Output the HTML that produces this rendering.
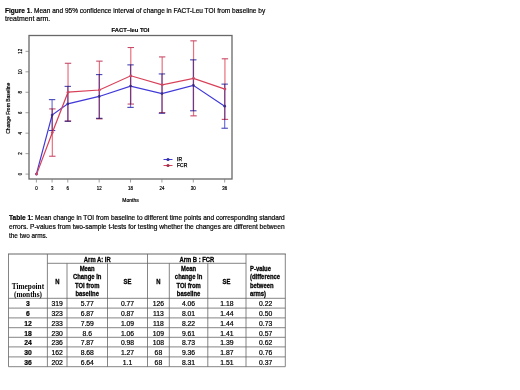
<!DOCTYPE html>
<html><head><meta charset="utf-8"><style>
html,body{margin:0;padding:0;background:#fff;}
body{width:520px;height:390px;position:relative;overflow:hidden;filter:blur(0.35px);font-family:"Liberation Sans",sans-serif;color:#222;}
.a{position:absolute;white-space:nowrap;}
.cap{font-size:7.1px;line-height:8.8px;color:#000;-webkit-text-stroke:0.2px #000;}
.c{position:absolute;text-align:center;white-space:nowrap;}
.d{font-size:6.8px;line-height:9.8px;color:#000;padding-top:1.2px;box-sizing:border-box;-webkit-text-stroke:0.2px #000;}
.h{font-size:6.7px;line-height:8.5px;font-weight:bold;color:#000;-webkit-text-stroke:0.28px #000;}
.h span{display:inline-block;transform:scaleX(0.88);transform-origin:50% 50%;}
.hl span{transform-origin:0 50%;}
.s{font-family:"Liberation Serif",serif;font-weight:bold;font-size:7.3px;line-height:7.9px;color:#000;}
svg{position:absolute;left:0;top:0;}
svg text{font-family:"Liberation Sans",sans-serif;stroke:#000;stroke-width:0.2px;}
</style></head><body>

<svg width="520" height="390" viewBox="0 0 520 390"><rect x="29.0" y="35.5" width="203.0" height="143.5" fill="none" stroke="#686868" stroke-width="1.3"/><line x1="25.5" y1="174.10" x2="29.0" y2="174.10" stroke="#777" stroke-width="0.7"/><text x="0" y="0" transform="translate(21.9,174.10) rotate(-90) scale(0.88,1)" text-anchor="middle" font-size="5" fill="#000">0</text><line x1="25.5" y1="153.64" x2="29.0" y2="153.64" stroke="#777" stroke-width="0.7"/><text x="0" y="0" transform="translate(21.9,153.64) rotate(-90) scale(0.88,1)" text-anchor="middle" font-size="5" fill="#000">2</text><line x1="25.5" y1="133.18" x2="29.0" y2="133.18" stroke="#777" stroke-width="0.7"/><text x="0" y="0" transform="translate(21.9,133.18) rotate(-90) scale(0.88,1)" text-anchor="middle" font-size="5" fill="#000">4</text><line x1="25.5" y1="112.72" x2="29.0" y2="112.72" stroke="#777" stroke-width="0.7"/><text x="0" y="0" transform="translate(21.9,112.72) rotate(-90) scale(0.88,1)" text-anchor="middle" font-size="5" fill="#000">6</text><line x1="25.5" y1="92.26" x2="29.0" y2="92.26" stroke="#777" stroke-width="0.7"/><text x="0" y="0" transform="translate(21.9,92.26) rotate(-90) scale(0.88,1)" text-anchor="middle" font-size="5" fill="#000">8</text><line x1="25.5" y1="71.80" x2="29.0" y2="71.80" stroke="#777" stroke-width="0.7"/><text x="0" y="0" transform="translate(21.9,71.80) rotate(-90) scale(0.88,1)" text-anchor="middle" font-size="5" fill="#000">10</text><line x1="25.5" y1="51.34" x2="29.0" y2="51.34" stroke="#777" stroke-width="0.7"/><text x="0" y="0" transform="translate(21.9,51.34) rotate(-90) scale(0.88,1)" text-anchor="middle" font-size="5" fill="#000">12</text><line x1="36.40" y1="179.0" x2="36.40" y2="182.5" stroke="#777" stroke-width="0.7"/><text x="0" y="0" transform="translate(36.40,190.3) scale(0.88,1)" text-anchor="middle" font-size="5" fill="#000">0</text><line x1="52.09" y1="179.0" x2="52.09" y2="182.5" stroke="#777" stroke-width="0.7"/><text x="0" y="0" transform="translate(52.09,190.3) scale(0.88,1)" text-anchor="middle" font-size="5" fill="#000">3</text><line x1="67.78" y1="179.0" x2="67.78" y2="182.5" stroke="#777" stroke-width="0.7"/><text x="0" y="0" transform="translate(67.78,190.3) scale(0.88,1)" text-anchor="middle" font-size="5" fill="#000">6</text><line x1="99.16" y1="179.0" x2="99.16" y2="182.5" stroke="#777" stroke-width="0.7"/><text x="0" y="0" transform="translate(99.16,190.3) scale(0.88,1)" text-anchor="middle" font-size="5" fill="#000">12</text><line x1="130.54" y1="179.0" x2="130.54" y2="182.5" stroke="#777" stroke-width="0.7"/><text x="0" y="0" transform="translate(130.54,190.3) scale(0.88,1)" text-anchor="middle" font-size="5" fill="#000">18</text><line x1="161.92" y1="179.0" x2="161.92" y2="182.5" stroke="#777" stroke-width="0.7"/><text x="0" y="0" transform="translate(161.92,190.3) scale(0.88,1)" text-anchor="middle" font-size="5" fill="#000">24</text><line x1="193.30" y1="179.0" x2="193.30" y2="182.5" stroke="#777" stroke-width="0.7"/><text x="0" y="0" transform="translate(193.30,190.3) scale(0.88,1)" text-anchor="middle" font-size="5" fill="#000">30</text><line x1="224.68" y1="179.0" x2="224.68" y2="182.5" stroke="#777" stroke-width="0.7"/><text x="0" y="0" transform="translate(224.68,190.3) scale(0.88,1)" text-anchor="middle" font-size="5" fill="#000">36</text><text x="130.5" y="201.5" text-anchor="middle" font-size="5" fill="#000">Months</text><text x="0" y="0" transform="translate(10.2,108.2) rotate(-90)" text-anchor="middle" font-size="5" fill="#000">Change From Baseline</text><text x="130.5" y="32.2" text-anchor="middle" font-size="5.8" font-weight="bold" fill="#111">FACT–leu TOI</text><polyline points="36.40,174.10 52.09,115.07 67.78,103.82 99.16,96.45 130.54,86.12 161.92,93.59 193.30,85.30 224.68,106.17" fill="none" stroke="#4038d8" stroke-width="1.2"/><g opacity="1.0" style="mix-blend-mode:multiply"><line x1="52.09" y1="130.51" x2="52.09" y2="99.63" stroke="#7470e0" stroke-width="1.2"/><line x1="48.89" y1="130.51" x2="55.29" y2="130.51" stroke="#4444b8" stroke-width="1.1"/><line x1="48.89" y1="99.63" x2="55.29" y2="99.63" stroke="#4444b8" stroke-width="1.1"/><line x1="67.78" y1="121.26" x2="67.78" y2="86.38" stroke="#7470e0" stroke-width="1.2"/><line x1="64.58" y1="121.26" x2="70.98" y2="121.26" stroke="#4444b8" stroke-width="1.1"/><line x1="64.58" y1="86.38" x2="70.98" y2="86.38" stroke="#4444b8" stroke-width="1.1"/><line x1="99.16" y1="118.31" x2="99.16" y2="74.60" stroke="#7470e0" stroke-width="1.2"/><line x1="95.96" y1="118.31" x2="102.36" y2="118.31" stroke="#4444b8" stroke-width="1.1"/><line x1="95.96" y1="74.60" x2="102.36" y2="74.60" stroke="#4444b8" stroke-width="1.1"/><line x1="130.54" y1="107.38" x2="130.54" y2="64.87" stroke="#7470e0" stroke-width="1.2"/><line x1="127.34" y1="107.38" x2="133.74" y2="107.38" stroke="#4444b8" stroke-width="1.1"/><line x1="127.34" y1="64.87" x2="133.74" y2="64.87" stroke="#4444b8" stroke-width="1.1"/><line x1="161.92" y1="113.24" x2="161.92" y2="73.94" stroke="#7470e0" stroke-width="1.2"/><line x1="158.72" y1="113.24" x2="165.12" y2="113.24" stroke="#4444b8" stroke-width="1.1"/><line x1="158.72" y1="73.94" x2="165.12" y2="73.94" stroke="#4444b8" stroke-width="1.1"/><line x1="193.30" y1="110.77" x2="193.30" y2="59.84" stroke="#7470e0" stroke-width="1.2"/><line x1="190.10" y1="110.77" x2="196.50" y2="110.77" stroke="#4444b8" stroke-width="1.1"/><line x1="190.10" y1="59.84" x2="196.50" y2="59.84" stroke="#4444b8" stroke-width="1.1"/><line x1="224.68" y1="128.23" x2="224.68" y2="84.12" stroke="#7470e0" stroke-width="1.2"/><line x1="221.48" y1="128.23" x2="227.88" y2="128.23" stroke="#4444b8" stroke-width="1.1"/><line x1="221.48" y1="84.12" x2="227.88" y2="84.12" stroke="#4444b8" stroke-width="1.1"/></g><circle cx="36.40" cy="174.10" r="1.4" fill="#4444b8"/><circle cx="52.09" cy="115.07" r="1.4" fill="#4444b8"/><circle cx="67.78" cy="103.82" r="1.4" fill="#4444b8"/><circle cx="99.16" cy="96.45" r="1.4" fill="#4444b8"/><circle cx="130.54" cy="86.12" r="1.4" fill="#4444b8"/><circle cx="161.92" cy="93.59" r="1.4" fill="#4444b8"/><circle cx="193.30" cy="85.30" r="1.4" fill="#4444b8"/><circle cx="224.68" cy="106.17" r="1.4" fill="#4444b8"/><polyline points="36.65,174.10 52.34,132.57 68.03,92.16 99.41,90.01 130.79,75.79 162.17,84.79 193.55,78.35 224.93,89.09" fill="none" stroke="#d84058" stroke-width="1.2"/><g opacity="1.0" style="mix-blend-mode:multiply"><line x1="52.34" y1="156.23" x2="52.34" y2="108.91" stroke="#e87080" stroke-width="1.2"/><line x1="49.14" y1="156.23" x2="55.54" y2="156.23" stroke="#c84a68" stroke-width="1.1"/><line x1="49.14" y1="108.91" x2="55.54" y2="108.91" stroke="#c84a68" stroke-width="1.1"/><line x1="68.03" y1="121.03" x2="68.03" y2="63.28" stroke="#e87080" stroke-width="1.2"/><line x1="64.83" y1="121.03" x2="71.23" y2="121.03" stroke="#c84a68" stroke-width="1.1"/><line x1="64.83" y1="63.28" x2="71.23" y2="63.28" stroke="#c84a68" stroke-width="1.1"/><line x1="99.41" y1="118.88" x2="99.41" y2="61.14" stroke="#e87080" stroke-width="1.2"/><line x1="96.21" y1="118.88" x2="102.61" y2="118.88" stroke="#c84a68" stroke-width="1.1"/><line x1="96.21" y1="61.14" x2="102.61" y2="61.14" stroke="#c84a68" stroke-width="1.1"/><line x1="130.79" y1="104.06" x2="130.79" y2="47.52" stroke="#e87080" stroke-width="1.2"/><line x1="127.59" y1="104.06" x2="133.99" y2="104.06" stroke="#c84a68" stroke-width="1.1"/><line x1="127.59" y1="47.52" x2="133.99" y2="47.52" stroke="#c84a68" stroke-width="1.1"/><line x1="162.17" y1="112.66" x2="162.17" y2="56.92" stroke="#e87080" stroke-width="1.2"/><line x1="158.97" y1="112.66" x2="165.37" y2="112.66" stroke="#c84a68" stroke-width="1.1"/><line x1="158.97" y1="56.92" x2="165.37" y2="56.92" stroke="#c84a68" stroke-width="1.1"/><line x1="193.55" y1="115.84" x2="193.55" y2="40.85" stroke="#e87080" stroke-width="1.2"/><line x1="190.35" y1="115.84" x2="196.75" y2="115.84" stroke="#c84a68" stroke-width="1.1"/><line x1="190.35" y1="40.85" x2="196.75" y2="40.85" stroke="#c84a68" stroke-width="1.1"/><line x1="224.93" y1="119.37" x2="224.93" y2="58.81" stroke="#e87080" stroke-width="1.2"/><line x1="221.73" y1="119.37" x2="228.13" y2="119.37" stroke="#c84a68" stroke-width="1.1"/><line x1="221.73" y1="58.81" x2="228.13" y2="58.81" stroke="#c84a68" stroke-width="1.1"/></g><circle cx="36.65" cy="174.10" r="1.4" fill="#c84a68"/><circle cx="52.34" cy="132.57" r="1.4" fill="#c84a68"/><circle cx="68.03" cy="92.16" r="1.4" fill="#c84a68"/><circle cx="99.41" cy="90.01" r="1.4" fill="#c84a68"/><circle cx="130.79" cy="75.79" r="1.4" fill="#c84a68"/><circle cx="162.17" cy="84.79" r="1.4" fill="#c84a68"/><circle cx="193.55" cy="78.35" r="1.4" fill="#c84a68"/><circle cx="224.93" cy="89.09" r="1.4" fill="#c84a68"/><line x1="163.5" y1="159.5" x2="172.5" y2="159.5" stroke="#4038d8" stroke-width="1"/><circle cx="168" cy="159.5" r="1.6" fill="#3030a0"/><line x1="163.5" y1="165.5" x2="172.5" y2="165.5" stroke="#d84058" stroke-width="1"/><circle cx="168" cy="165.5" r="1.6" fill="#a03050"/><text x="177" y="161.3" font-size="5" fill="#000" style="stroke-width:0.25px">IR</text><text x="177" y="167.3" font-size="5" fill="#000" style="stroke-width:0.25px">FCR</text><line x1="8.0" y1="254.0" x2="285.8" y2="254.0" stroke="#666" stroke-width="1.2"/><line x1="47.4" y1="263.3" x2="246" y2="263.3" stroke="#666" stroke-width="0.8"/><line x1="8.5" y1="298.3" x2="285.3" y2="298.3" stroke="#666" stroke-width="0.8"/><line x1="8.5" y1="308.1" x2="285.3" y2="308.1" stroke="#666" stroke-width="0.8"/><line x1="8.5" y1="317.9" x2="285.3" y2="317.9" stroke="#666" stroke-width="0.8"/><line x1="8.5" y1="327.7" x2="285.3" y2="327.7" stroke="#666" stroke-width="0.8"/><line x1="8.5" y1="337.3" x2="285.3" y2="337.3" stroke="#666" stroke-width="0.8"/><line x1="8.5" y1="346.9" x2="285.3" y2="346.9" stroke="#666" stroke-width="0.8"/><line x1="8.5" y1="356.9" x2="285.3" y2="356.9" stroke="#666" stroke-width="0.8"/><line x1="8.5" y1="366.7" x2="285.3" y2="366.7" stroke="#666" stroke-width="0.8"/><line x1="8.5" y1="254.0" x2="8.5" y2="366.7" stroke="#666" stroke-width="0.8"/><line x1="47.4" y1="254.0" x2="47.4" y2="366.7" stroke="#666" stroke-width="0.8"/><line x1="67" y1="263.3" x2="67" y2="366.7" stroke="#666" stroke-width="0.8"/><line x1="107.5" y1="263.3" x2="107.5" y2="366.7" stroke="#666" stroke-width="0.8"/><line x1="147.5" y1="254.0" x2="147.5" y2="366.7" stroke="#666" stroke-width="0.8"/><line x1="169.3" y1="263.3" x2="169.3" y2="366.7" stroke="#666" stroke-width="0.8"/><line x1="207.8" y1="263.3" x2="207.8" y2="366.7" stroke="#666" stroke-width="0.8"/><line x1="246" y1="254.0" x2="246" y2="366.7" stroke="#666" stroke-width="0.8"/><line x1="285.3" y1="254.0" x2="285.3" y2="366.7" stroke="#666" stroke-width="0.8"/></svg>
<div class="a cap" style="left:4.7px;top:6.6px;transform:scaleX(0.9210);transform-origin:0 0"><b>Figure 1</b>. Mean and 95% confidence interval of change in FACT-Leu TOI from baseline by</div>
<div class="a cap" style="left:4.7px;top:15.3px;transform:scaleX(0.9796);transform-origin:0 0">treatment arm.</div>
<div class="a cap" style="left:8.7px;top:214.2px;transform:scaleX(0.9228);transform-origin:0 0"><b>Table 1:</b> Mean change in TOI from baseline to different time points and corresponding standard</div>
<div class="a cap" style="left:8.7px;top:223.0px;transform:scaleX(0.9338);transform-origin:0 0">errors. P-values from two-sample t-tests for testing whether the changes are different between</div>
<div class="a cap" style="left:8.7px;top:231.8px;transform:scaleX(0.9063);transform-origin:0 0">the two arms.</div>
<div class="c h" style="left:47.4px;width:100.1px;top:255.5px;height:8.800000000000011px;line-height:8.7px"><span>Arm A: IR</span></div>
<div class="c h" style="left:147.5px;width:98.5px;top:255.5px;height:8.800000000000011px;line-height:8.7px"><span>Arm B : FCR</span></div>
<div class="c h" style="left:47.4px;width:19.6px;top:277.90px;text-align:center"><span>N</span></div>
<div class="c h" style="left:67px;width:40.5px;top:264.60px;text-align:center"><span>Mean<br>Change in<br>TOI from<br>baseline</span></div>
<div class="c h" style="left:107.5px;width:40.0px;top:277.90px;text-align:center"><span>SE</span></div>
<div class="c h" style="left:147.5px;width:21.80000000000001px;top:277.90px;text-align:center"><span>N</span></div>
<div class="c h" style="left:169.3px;width:38.5px;top:264.60px;text-align:center"><span>Mean<br>change in<br>TOI from<br>baseline</span></div>
<div class="c h" style="left:207.8px;width:38.19999999999999px;top:277.90px;text-align:center"><span>SE</span></div>
<div class="c h hl" style="left:250px;top:264.60px;text-align:left"><span>P-value<br>(difference<br>between<br>arms)</span></div>
<div class="c s" style="left:8.5px;width:38.9px;top:282.70px">Timepoint<br>(months)</div>
<div class="c d" style="left:8.5px;width:38.9px;top:298.3px;height:9.800000000000011px;font-weight:bold;line-height:9.80px">3</div>
<div class="c d" style="left:47.4px;width:19.6px;top:298.3px;height:9.800000000000011px;;line-height:9.80px">319</div>
<div class="c d" style="left:67px;width:40.5px;top:298.3px;height:9.800000000000011px;;line-height:9.80px">5.77</div>
<div class="c d" style="left:107.5px;width:40.0px;top:298.3px;height:9.800000000000011px;;line-height:9.80px">0.77</div>
<div class="c d" style="left:147.5px;width:21.80000000000001px;top:298.3px;height:9.800000000000011px;;line-height:9.80px">126</div>
<div class="c d" style="left:169.3px;width:38.5px;top:298.3px;height:9.800000000000011px;;line-height:9.80px">4.06</div>
<div class="c d" style="left:207.8px;width:38.19999999999999px;top:298.3px;height:9.800000000000011px;;line-height:9.80px">1.18</div>
<div class="c d" style="left:246px;width:39.30000000000001px;top:298.3px;height:9.800000000000011px;;line-height:9.80px">0.22</div>
<div class="c d" style="left:8.5px;width:38.9px;top:308.1px;height:9.799999999999955px;font-weight:bold;line-height:9.80px">6</div>
<div class="c d" style="left:47.4px;width:19.6px;top:308.1px;height:9.799999999999955px;;line-height:9.80px">323</div>
<div class="c d" style="left:67px;width:40.5px;top:308.1px;height:9.799999999999955px;;line-height:9.80px">6.87</div>
<div class="c d" style="left:107.5px;width:40.0px;top:308.1px;height:9.799999999999955px;;line-height:9.80px">0.87</div>
<div class="c d" style="left:147.5px;width:21.80000000000001px;top:308.1px;height:9.799999999999955px;;line-height:9.80px">113</div>
<div class="c d" style="left:169.3px;width:38.5px;top:308.1px;height:9.799999999999955px;;line-height:9.80px">8.01</div>
<div class="c d" style="left:207.8px;width:38.19999999999999px;top:308.1px;height:9.799999999999955px;;line-height:9.80px">1.44</div>
<div class="c d" style="left:246px;width:39.30000000000001px;top:308.1px;height:9.799999999999955px;;line-height:9.80px">0.50</div>
<div class="c d" style="left:8.5px;width:38.9px;top:317.9px;height:9.800000000000011px;font-weight:bold;line-height:9.80px">12</div>
<div class="c d" style="left:47.4px;width:19.6px;top:317.9px;height:9.800000000000011px;;line-height:9.80px">233</div>
<div class="c d" style="left:67px;width:40.5px;top:317.9px;height:9.800000000000011px;;line-height:9.80px">7.59</div>
<div class="c d" style="left:107.5px;width:40.0px;top:317.9px;height:9.800000000000011px;;line-height:9.80px">1.09</div>
<div class="c d" style="left:147.5px;width:21.80000000000001px;top:317.9px;height:9.800000000000011px;;line-height:9.80px">118</div>
<div class="c d" style="left:169.3px;width:38.5px;top:317.9px;height:9.800000000000011px;;line-height:9.80px">8.22</div>
<div class="c d" style="left:207.8px;width:38.19999999999999px;top:317.9px;height:9.800000000000011px;;line-height:9.80px">1.44</div>
<div class="c d" style="left:246px;width:39.30000000000001px;top:317.9px;height:9.800000000000011px;;line-height:9.80px">0.73</div>
<div class="c d" style="left:8.5px;width:38.9px;top:327.7px;height:9.600000000000023px;font-weight:bold;line-height:9.60px">18</div>
<div class="c d" style="left:47.4px;width:19.6px;top:327.7px;height:9.600000000000023px;;line-height:9.60px">230</div>
<div class="c d" style="left:67px;width:40.5px;top:327.7px;height:9.600000000000023px;;line-height:9.60px">8.6</div>
<div class="c d" style="left:107.5px;width:40.0px;top:327.7px;height:9.600000000000023px;;line-height:9.60px">1.06</div>
<div class="c d" style="left:147.5px;width:21.80000000000001px;top:327.7px;height:9.600000000000023px;;line-height:9.60px">109</div>
<div class="c d" style="left:169.3px;width:38.5px;top:327.7px;height:9.600000000000023px;;line-height:9.60px">9.61</div>
<div class="c d" style="left:207.8px;width:38.19999999999999px;top:327.7px;height:9.600000000000023px;;line-height:9.60px">1.41</div>
<div class="c d" style="left:246px;width:39.30000000000001px;top:327.7px;height:9.600000000000023px;;line-height:9.60px">0.57</div>
<div class="c d" style="left:8.5px;width:38.9px;top:337.3px;height:9.599999999999966px;font-weight:bold;line-height:9.60px">24</div>
<div class="c d" style="left:47.4px;width:19.6px;top:337.3px;height:9.599999999999966px;;line-height:9.60px">236</div>
<div class="c d" style="left:67px;width:40.5px;top:337.3px;height:9.599999999999966px;;line-height:9.60px">7.87</div>
<div class="c d" style="left:107.5px;width:40.0px;top:337.3px;height:9.599999999999966px;;line-height:9.60px">0.98</div>
<div class="c d" style="left:147.5px;width:21.80000000000001px;top:337.3px;height:9.599999999999966px;;line-height:9.60px">108</div>
<div class="c d" style="left:169.3px;width:38.5px;top:337.3px;height:9.599999999999966px;;line-height:9.60px">8.73</div>
<div class="c d" style="left:207.8px;width:38.19999999999999px;top:337.3px;height:9.599999999999966px;;line-height:9.60px">1.39</div>
<div class="c d" style="left:246px;width:39.30000000000001px;top:337.3px;height:9.599999999999966px;;line-height:9.60px">0.62</div>
<div class="c d" style="left:8.5px;width:38.9px;top:346.9px;height:10.0px;font-weight:bold;line-height:10.00px">30</div>
<div class="c d" style="left:47.4px;width:19.6px;top:346.9px;height:10.0px;;line-height:10.00px">162</div>
<div class="c d" style="left:67px;width:40.5px;top:346.9px;height:10.0px;;line-height:10.00px">8.68</div>
<div class="c d" style="left:107.5px;width:40.0px;top:346.9px;height:10.0px;;line-height:10.00px">1.27</div>
<div class="c d" style="left:147.5px;width:21.80000000000001px;top:346.9px;height:10.0px;;line-height:10.00px">68</div>
<div class="c d" style="left:169.3px;width:38.5px;top:346.9px;height:10.0px;;line-height:10.00px">9.36</div>
<div class="c d" style="left:207.8px;width:38.19999999999999px;top:346.9px;height:10.0px;;line-height:10.00px">1.87</div>
<div class="c d" style="left:246px;width:39.30000000000001px;top:346.9px;height:10.0px;;line-height:10.00px">0.76</div>
<div class="c d" style="left:8.5px;width:38.9px;top:356.9px;height:9.800000000000011px;font-weight:bold;line-height:9.80px">36</div>
<div class="c d" style="left:47.4px;width:19.6px;top:356.9px;height:9.800000000000011px;;line-height:9.80px">202</div>
<div class="c d" style="left:67px;width:40.5px;top:356.9px;height:9.800000000000011px;;line-height:9.80px">6.64</div>
<div class="c d" style="left:107.5px;width:40.0px;top:356.9px;height:9.800000000000011px;;line-height:9.80px">1.1</div>
<div class="c d" style="left:147.5px;width:21.80000000000001px;top:356.9px;height:9.800000000000011px;;line-height:9.80px">68</div>
<div class="c d" style="left:169.3px;width:38.5px;top:356.9px;height:9.800000000000011px;;line-height:9.80px">8.31</div>
<div class="c d" style="left:207.8px;width:38.19999999999999px;top:356.9px;height:9.800000000000011px;;line-height:9.80px">1.51</div>
<div class="c d" style="left:246px;width:39.30000000000001px;top:356.9px;height:9.800000000000011px;;line-height:9.80px">0.37</div>
</body></html>
